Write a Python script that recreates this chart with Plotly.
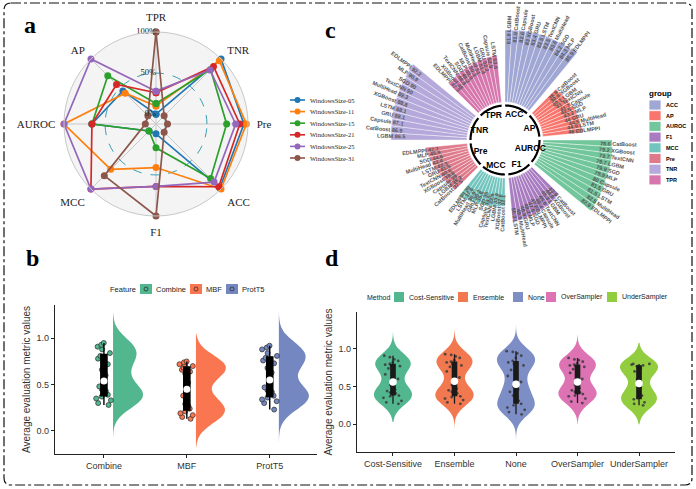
import numpy as np
import plotly.graph_objects as go

W, H = 696, 489


def fx(p):
    return p / W


def fy(p):
    return 1 - p / H


# ---------------- panel a : radar ----------------
radar_axes = ['TPR', 'TNR', 'Pre', 'ACC', 'F1', 'MCC', 'AUROC', 'AP']
window_names = ['WindowsSize-05', 'WindowsSize-11', 'WindowsSize-15',
                'WindowsSize-21', 'WindowsSize-25', 'WindowsSize-31']
ws05 = [0.00, 1.00, 0.95, 0.98, 0.00, 0.00, 0.66, 0.45]
ws11 = [0.10, 0.97, 0.98, 1.00, 0.41, 0.66, 1.00, 0.41]
ws15 = [0.13, 0.82, 0.74, 0.82, 0.17, 0.00, 0.66, 0.71]
ws21 = [0.26, 0.87, 0.90, 0.96, 0.64, 1.00, 0.66, 0.56]
ws25 = [0.28, 0.81, 0.85, 0.88, 0.64, 1.00, 1.00, 1.00]
ws31 = [1.00, 0.02, 0.02, 0.02, 1.00, 0.77, 0.01, 0.02]
radar_series = [ws05, ws11, ws15, ws21, ws25, ws31]
radar_colors = ['#1f77b4', '#ff7f0e', '#2ca02c', '#d62728', '#9467bd', '#8c564b']
radar_ticks = [0, 0.5, 1.0]
radar_tick_text = ['0%', '50%', '100%']

# ---------------- panel c : circular bars ----------------
metric_groups = ['ACC', 'AP', 'AUROC', 'F1', 'MCC', 'Pre', 'TNR', 'TPR']
group_colors = ['#a0a7d4', '#f8766d', '#72c69c', '#a97cc2',
                '#72c5be', '#df7a8b', '#b4a9da', '#d676ac']
acc_models = ['LGBM', 'CatBoost', 'Capsule', 'XGBoost', 'GRU', 'LSTM',
              'TextCNN', 'MultiHead', 'SGD', 'MLP', 'EDLMPPI']
acc_values = [81.9, 81.9, 82.6, 83.0, 83.4, 83.5, 83.5, 83.6, 84.2, 84.3, 85.9]
ap_models = ['CatBoost', 'XGBoost', 'LGBM', 'TextCNN', 'Capsule', 'SGD',
             'MLP', 'GRU', 'MultiHead', 'LSTM', 'EDLMPPI']
ap_values = [38.8, 39.6, 40.1, 41.0, 41.7, 42.5, 43.2, 44.0, 44.5, 44.9, 46.0]
auroc_models = ['CatBoost', 'XGBoost', 'TextCNN', 'LGBM', 'SGD', 'MLP',
                'Capsule', 'GRU', 'LSTM', 'MultiHead', 'EDLMPPI']
auroc_values = [78.6, 79.2, 79.7, 79.7, 79.9, 79.9, 80.0, 81.5, 81.5, 82.5, 82.9]
f1_models = ['CatBoost', 'XGBoost', 'LGBM', 'TextCNN', 'Capsule', 'EDLMPPI',
             'SGD', 'MLP', 'GRU', 'MultiHead', 'LSTM']
f1_values = [43.9, 44.6, 45.3, 45.9, 46.4, 47.0, 47.6, 48.2, 48.9, 49.5, 50.3]
mcc_models = ['CatBoost', 'XGBoost', 'LGBM', 'TextCNN', 'Capsule', 'SGD',
              'MLP', 'GRU', 'MultiHead', 'LSTM', 'EDLMPPI']
mcc_values = [32.1, 32.8, 33.4, 33.9, 34.5, 35.0, 35.6, 36.2, 36.9, 37.6, 39.0]
pre_models = ['CatBoost', 'LGBM', 'Capsule', 'XGBoost', 'TextCNN', 'GRU',
              'LSTM', 'MultiHead', 'SGD', 'MLP', 'EDLMPPI']
pre_values = [37.5, 38.2, 39.0, 39.8, 40.6, 41.5, 42.3, 43.4, 44.6, 45.9, 47.7]
tnr_models = ['LGBM', 'CatBoost', 'Capsule', 'GRU', 'LSTM', 'XGBoost',
              'MultiHead', 'TextCNN', 'SGD', 'MLP', 'EDLMPPI']
tnr_values = [86.5, 86.9, 87.1, 88.1, 88.1, 88.8, 89.3, 90.0, 90.0, 90.9, 92.2]
tpr_models = ['EDLMPPI', 'XGBoost', 'TextCNN', 'SGD', 'MLP', 'CatBoost',
              'MultiHead', 'LGBM', 'GRU', 'Capsule', 'LSTM']
tpr_values = [47.3, 48.0, 48.8, 49.2, 49.9, 50.3, 51.0, 51.4, 52.2, 52.9, 53.6]
group_models = [acc_models, ap_models, auroc_models, f1_models,
                mcc_models, pre_models, tnr_models, tpr_models]
group_values = [acc_values, ap_values, auroc_values, f1_values,
                mcc_values, pre_values, tnr_values, tpr_values]

# ---------------- panel b : half violins ----------------
features = ['Combine', 'MBF', 'ProtT5']
combine_vals = [0.28, 0.30, 0.33, 0.35, 0.37, 0.39, 0.41, 0.43, 0.45, 0.48,
                0.60, 0.66, 0.72, 0.78, 0.81, 0.84, 0.88, 0.91, 0.93, 0.95]
mbf_vals = [0.13, 0.15, 0.17, 0.19, 0.21, 0.24, 0.26, 0.27, 0.29, 0.38,
            0.52, 0.62, 0.64, 0.66, 0.68, 0.70, 0.71, 0.72, 0.74, 0.75]
prott5_vals = [0.23, 0.30, 0.32, 0.34, 0.36, 0.38, 0.40, 0.42, 0.44, 0.47,
               0.63, 0.68, 0.73, 0.76, 0.79, 0.81, 0.84, 0.88, 0.90, 0.92]
feature_vals = [combine_vals, mbf_vals, prott5_vals]
feature_spans = [[-0.07, 1.28], [-0.18, 1.05], [-0.12, 1.28]]
feature_colors = ['#52b78e', '#fa7650', '#7587c1']

# ---------------- panel d : violins ----------------
methods = ['Cost-Sensitive', 'Ensemble', 'None', 'OverSampler', 'UnderSampler']
cost_vals = [0.27, 0.29, 0.31, 0.35, 0.37, 0.38, 0.40, 0.41, 0.42, 0.44, 0.46, 0.52,
             0.60, 0.66, 0.74, 0.77, 0.78, 0.79, 0.80, 0.82, 0.84, 0.86, 0.89, 0.91]
ens_vals = [0.27, 0.29, 0.32, 0.34, 0.36, 0.37, 0.39, 0.41, 0.43, 0.45, 0.47, 0.52,
            0.62, 0.70, 0.76, 0.78, 0.80, 0.82, 0.83, 0.85, 0.88, 0.90, 0.92, 0.93]
none_vals = [0.13, 0.16, 0.19, 0.22, 0.25, 0.27, 0.29, 0.31, 0.38, 0.43, 0.46, 0.50,
             0.56, 0.64, 0.72, 0.78, 0.80, 0.82, 0.84, 0.88, 0.91, 0.94, 0.96, 0.97]
over_vals = [0.28, 0.30, 0.34, 0.37, 0.38, 0.40, 0.41, 0.42, 0.43, 0.45, 0.48, 0.52,
             0.60, 0.68, 0.73, 0.76, 0.77, 0.78, 0.79, 0.81, 0.83, 0.85, 0.86, 0.88]
under_vals = [0.25, 0.27, 0.29, 0.33, 0.35, 0.38, 0.42, 0.48,
              0.60, 0.70, 0.74, 0.77, 0.78, 0.79, 0.80, 0.80]
method_vals = [cost_vals, ens_vals, none_vals, over_vals, under_vals]
method_spans = [[0.03, 1.22], [-0.06, 1.27], [-0.27, 1.38], [0.0, 1.18], [0.0, 1.08]]
method_colors = ['#52b78f', '#f2784f', '#7d8ec6', '#dd73b3', '#92cc3f']

SANS = 'Liberation Sans'
SERIF = 'Liberation Serif'

fig = go.Figure()
annotations = []
shapes = []

# ---- a: radar
for name, vals, col in zip(window_names, radar_series, radar_colors):
    fig.add_trace(go.Scatterpolar(
        r=vals + vals[:1], theta=radar_axes + radar_axes[:1],
        mode='lines+markers', name=name, subplot='polar',
        line=dict(color=col, width=1.7), marker=dict(size=7, color=col),
        showlegend=False))
fig.add_trace(go.Scatterpolar(
    r=radar_ticks, theta=[radar_axes[0]] * 3, text=radar_tick_text,
    mode='text', textposition='middle left', subplot='polar',
    textfont=dict(family=SERIF, size=8.5, color='#222'), showlegend=False))

# legend a (drawn by hand, plotly legend rows are too tall here)
for i, (name, col) in enumerate(zip(window_names, radar_colors)):
    yy = 100 + 11.6 * i
    shapes.append(dict(type='line', xref='paper', yref='paper', x0=fx(290), x1=fx(305),
                       y0=fy(yy), y1=fy(yy), line=dict(color=col, width=1.6)))
    shapes.append(dict(type='circle', xref='paper', yref='paper', x0=fx(294.5), x1=fx(300.5),
                       y0=fy(yy + 3), y1=fy(yy - 3), fillcolor=col, line=dict(width=0)))
    annotations.append(dict(x=fx(308), y=fy(yy), xref='paper', yref='paper', text=name,
                            showarrow=False, xanchor='left', yanchor='middle',
                            font=dict(family=SERIF, size=6.5, color='#222')))

# ---- c: circular bar plot
C_CX, C_CY, C_R = 505, 140, 140
R_MIN, R_MAX = -43.2, 115.9
slot = 360 / (len(metric_groups) * 12.5)
LBL = 5.5


def r_px(v):
    return (v - R_MIN) / (R_MAX - R_MIN) * C_R


for g, (grp, models, vals, col) in enumerate(zip(metric_groups, group_models,
                                                   group_values, group_colors)):
    th = [(g * 12.5 + j + 0.5) * slot for j in range(len(vals))]
    fig.add_trace(go.Barpolar(
        r=vals, theta=th, base=0, width=[slot] * len(vals), name=grp,
        marker=dict(color=col, line=dict(color='white', width=0.4)),
        subplot='polar2', showlegend=False))
    arc = np.linspace(th[0] - slot * 0.45, th[-1] + slot * 0.45, 40)
    fig.add_trace(go.Scatterpolar(
        r=[-4.0] * len(arc), theta=arc, mode='lines', subplot='polar2',
        line=dict(color='black', width=2.2), showlegend=False, hoverinfo='skip'))
    fig.add_trace(go.Scatterpolar(
        r=[-12.5], theta=[np.mean(th)], mode='text', text=[f'<b>{grp}</b>'],
        subplot='polar2', textfont=dict(family=SANS, size=8.5, color='black'),
        showlegend=False))
    for t, m, v in zip(th, models, vals):
        right = t < 180
        txt = f'{v:g} {m}' if right else f'{m} {v:g}'
        L = len(txt) * 0.58 * LBL
        rc = r_px(v) - 14 + L / 2
        a = np.radians(t)
        annotations.append(dict(
            x=fx(C_CX + rc * np.sin(a)), y=fy(C_CY - rc * np.cos(a)),
            xref='paper', yref='paper', text=f'<b>{txt}</b>',
            textangle=(t - 90) if right else (t - 270), showarrow=False,
            xanchor='center', yanchor='middle',
            font=dict(family=SANS, size=LBL, color='#555')))

# legend c
annotations.append(dict(x=fx(647), y=fy(93), xref='paper', yref='paper', text='<b>group</b>',
                        showarrow=False, xanchor='left', yanchor='middle',
                        font=dict(family=SANS, size=8, color='black')))
for i, (grp, col) in enumerate(zip(metric_groups, group_colors)):
    yy = 105 + 10.7 * i
    shapes.append(dict(type='rect', xref='paper', yref='paper', x0=fx(649), x1=fx(661),
                       y0=fy(yy + 5), y1=fy(yy - 5), fillcolor=col,
                       line=dict(color='white', width=0.8)))
    annotations.append(dict(x=fx(664), y=fy(yy), xref='paper', yref='paper', text=f'<b>{grp}</b>',
                            showarrow=False, xanchor='left', yanchor='middle',
                            font=dict(family=SANS, size=5.5, color='black')))

# ---- b: half violins + box + jitter
for i, (name, vals, span, col) in enumerate(zip(features, feature_vals,
                                                feature_spans, feature_colors)):
    pos = i + 1
    fig.add_trace(go.Violin(
        x0=pos + 0.11, y=vals, side='positive', width=0.72, name=name,
        fillcolor=col, line=dict(color=col, width=0), opacity=1,
        points=False, bandwidth=0.12, spanmode='manual', span=span,
        xaxis='x', yaxis='y', showlegend=False, hoverinfo='skip'))
    fig.add_trace(go.Box(
        x0=pos, y=vals, width=0.22, boxpoints='all', jitter=1, pointpos=0,
        fillcolor='rgba(0,0,0,0)', line=dict(color='rgba(0,0,0,0)', width=0),
        marker=dict(color=col, size=5, line=dict(color='#2b2b2b', width=0.7)),
        xaxis='x', yaxis='y', showlegend=False, hoverinfo='skip'))
    fig.add_trace(go.Box(
        x0=pos, y=vals, width=0.075, boxpoints=False, whiskerwidth=0,
        fillcolor='black', line=dict(color='black', width=1.4),
        xaxis='x', yaxis='y', showlegend=False, hoverinfo='skip'))
    fig.add_trace(go.Scatter(
        x=[pos], y=[np.median(vals)], mode='markers',
        marker=dict(color='white', size=7), xaxis='x', yaxis='y',
        showlegend=False, hoverinfo='skip'))

# legend b
annotations.append(dict(x=fx(108), y=fy(289), xref='paper', yref='paper', text='Feature',
                        showarrow=False, xanchor='left', yanchor='middle',
                        font=dict(family=SANS, size=7.5, color='#222')))
for name, col, kx in zip(features, feature_colors, [140, 190, 226]):
    shapes.append(dict(type='rect', xref='paper', yref='paper', x0=fx(kx), x1=fx(kx + 12),
                       y0=fy(294), y1=fy(284), fillcolor=col, line=dict(width=0)))
    shapes.append(dict(type='circle', xref='paper', yref='paper', x0=fx(kx + 4), x1=fx(kx + 8),
                       y0=fy(291), y1=fy(287), line=dict(color='#222', width=0.7)))
    annotations.append(dict(x=fx(kx + 14), y=fy(289), xref='paper', yref='paper', text=name,
                            showarrow=False, xanchor='left', yanchor='middle',
                            font=dict(family=SANS, size=7.5, color='#222')))

# ---- d: violins + box + jitter
for i, (name, vals, span, col) in enumerate(zip(methods, method_vals,
                                                method_spans, method_colors)):
    pos = i + 1
    fig.add_trace(go.Violin(
        x0=pos, y=vals, width=0.62, name=name,
        fillcolor=col, line=dict(color=col, width=0), opacity=1,
        points=False, bandwidth=0.11, spanmode='manual', span=span,
        xaxis='x2', yaxis='y2', showlegend=False, hoverinfo='skip'))
    fig.add_trace(go.Box(
        x0=pos, y=vals, width=0.38, boxpoints='all', jitter=1, pointpos=0,
        fillcolor='rgba(0,0,0,0)', line=dict(color='rgba(0,0,0,0)', width=0),
        marker=dict(color='#3a3a3a', size=2.8, opacity=0.85),
        xaxis='x2', yaxis='y2', showlegend=False, hoverinfo='skip'))
    fig.add_trace(go.Box(
        x0=pos, y=vals, width=0.07, boxpoints=False, whiskerwidth=0,
        fillcolor='#1a1a1a', line=dict(color='#1a1a1a', width=1.3),
        xaxis='x2', yaxis='y2', showlegend=False, hoverinfo='skip'))
    fig.add_trace(go.Scatter(
        x=[pos], y=[np.median(vals)], mode='markers',
        marker=dict(color='white', size=7.5), xaxis='x2', yaxis='y2',
        showlegend=False, hoverinfo='skip'))

# legend d
annotations.append(dict(x=fx(365), y=fy(297), xref='paper', yref='paper', text='Method',
                        showarrow=False, xanchor='left', yanchor='middle',
                        font=dict(family=SANS, size=7, color='#222')))
for name, col, kx in zip(methods, method_colors, [394, 458, 513, 546, 607]):
    shapes.append(dict(type='rect', xref='paper', yref='paper', x0=fx(kx), x1=fx(kx + 10),
                       y0=fy(302), y1=fy(292), fillcolor=col, line=dict(width=0)))
    annotations.append(dict(x=fx(kx + 13), y=fy(297), xref='paper', yref='paper', text=name,
                            showarrow=False, xanchor='left', yanchor='middle',
                            font=dict(family=SANS, size=7, color='#222')))

# panel letters
for letter, lx, ly in [('a', 30, 25), ('b', 32, 258), ('c', 330, 30), ('d', 332, 258)]:
    annotations.append(dict(x=fx(lx), y=fy(ly), xref='paper', yref='paper', text=f'<b>{letter}</b>',
                            showarrow=False, xanchor='center', yanchor='middle',
                            font=dict(family=SERIF, size=24, color='black')))

# dashed rounded frame
x0, x1, y0, y1, rr = 4, 692, 3, 485, 7
pts = [('M', x0 + rr, y0), ('L', x1 - rr, y0), ('Q', x1, y0, x1, y0 + rr), ('L', x1, y1 - rr),
       ('Q', x1, y1, x1 - rr, y1), ('L', x0 + rr, y1), ('Q', x0, y1, x0, y1 - rr),
       ('L', x0, y0 + rr), ('Q', x0, y0, x0 + rr, y0)]
path = ''
for p in pts:
    coords = p[1:]
    seg = ' '.join(f'{fx(coords[k]):.5f},{fy(coords[k + 1]):.5f}' for k in range(0, len(coords), 2))
    path += f'{p[0]} {seg} '
shapes.append(dict(type='path', xref='paper', yref='paper', path=path + 'Z',
                   line=dict(color='#111', width=1.2, dash='10px,3px,3px,3px')))

axis_common = dict(showline=True, linecolor='#222', linewidth=1.2, ticks='outside',
                   ticklen=3, tickcolor='#222', showgrid=False, zeroline=False,
                   tickfont=dict(family=SANS, size=9, color='#333'))

fig.update_layout(
    width=W, height=H, autosize=False,
    margin=dict(l=0, r=0, t=0, b=0),
    paper_bgcolor='white', plot_bgcolor='white',
    showlegend=False,
    polar=dict(
        domain=dict(x=[fx(64), fx(248)], y=[fy(216), fy(32)]),
        bgcolor='#f4f4f4',
        angularaxis=dict(rotation=90, direction='clockwise', showline=True,
                         linecolor='#c8c8c8', linewidth=1, gridcolor='#c8c8c8',
                         ticks='outside', ticklen=6, tickcolor='rgba(0,0,0,0)',
                         tickfont=dict(family=SERIF, size=11, color='#222')),
        radialaxis=dict(range=[-0.12, 1.0], tickvals=[0, 0.5], showticklabels=False,
                        ticks='', showline=False, gridcolor='#3a9fb1', griddash='dash',
                        gridwidth=1)),
    polar2=dict(
        domain=dict(x=[fx(C_CX - C_R), fx(C_CX + C_R)], y=[fy(C_CY + C_R), fy(C_CY - C_R)]),
        bgcolor='rgba(0,0,0,0)',
        angularaxis=dict(rotation=90, direction='clockwise', visible=False),
        radialaxis=dict(range=[R_MIN, R_MAX], visible=False)),
    xaxis=dict(domain=[fx(55), fx(317)], range=[0.41, 3.57], anchor='y',
               tickvals=[1, 2, 3], ticktext=features, **axis_common),
    yaxis=dict(domain=[fy(454), fy(305)], range=[-0.25, 1.36], anchor='x',
               tickvals=[0, 0.5, 1.0], ticktext=['0.0', '0.5', '1.0'],
               title=dict(text='Average evaluation metric values', standoff=4,
                          font=dict(family=SANS, size=10, color='#333')),
               **axis_common),
    xaxis2=dict(domain=[fx(357), fx(675)], range=[0.415, 5.585], anchor='y2',
                tickvals=[1, 2, 3, 4, 5], ticktext=methods, **axis_common),
    yaxis2=dict(domain=[fy(452), fy(312)], range=[-0.37, 1.49], anchor='x2',
                tickvals=[0, 0.5, 1.0], ticktext=['0.0', '0.5', '1.0'],
                title=dict(text='Average evaluation metric values', standoff=4,
                           font=dict(family=SANS, size=10, color='#333')),
                **axis_common),
    annotations=annotations,
    shapes=shapes,
)

fig.write_html('out.html', config={'displayModeBar': False},
               post_script="document.body.style.margin='0px';")
